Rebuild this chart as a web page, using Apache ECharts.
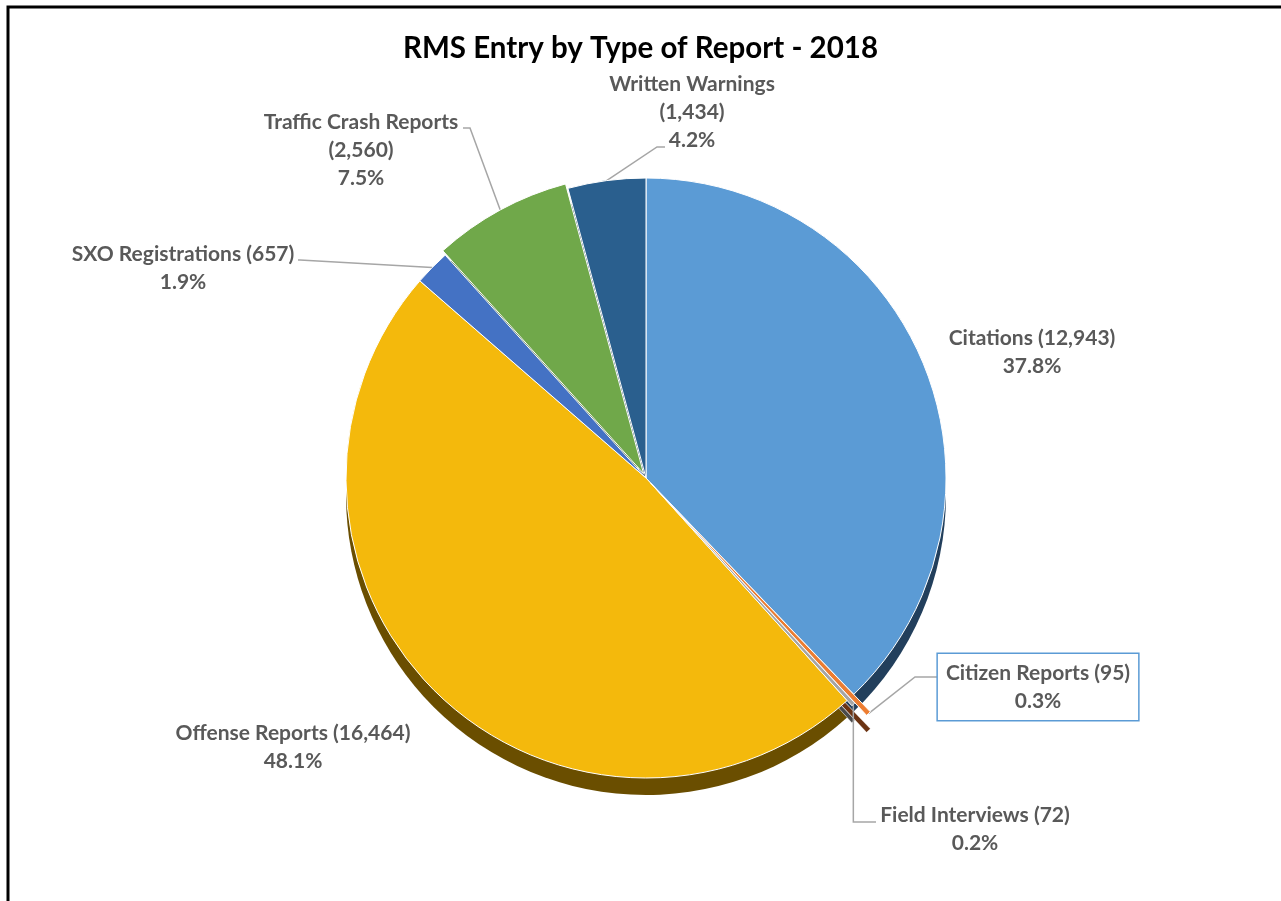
<!DOCTYPE html>
<html>
<head>
<meta charset="utf-8">
<title>RMS Entry by Type of Report - 2018</title>
<script src="https://cdn.jsdelivr.net/npm/echarts@6/dist/echarts.min.js"></script>
<style>
  html, body { margin: 0; padding: 0; background: #fff; }
  #chart { width: 1281px; height: 901px; }
</style>
</head>
<body>
<div id="chart"></div>
<script>
// Report types and their 2018 entry counts
const categories = [
  'Citations',
  'Citizen Reports',
  'Field Interviews',
  'Offense Reports',
  'SXO Registrations',
  'Traffic Crash Reports',
  'Written Warnings'
];
const counts = [12943, 95, 72, 16464, 657, 2560, 1434];

// Slice colours (top face) and the darker tones used for the pie's rim
const topColors  = ['#5B9BD5', '#ED7D31', '#A5A5A5', '#F4B90C', '#4472C4', '#70A84A', '#2A5F8E'];
const sideColors = ['#223F5C', '#6B3312', '#4A4A4A', '#6A4E00', '#2B4A80', '#446B2B', '#163A5A'];

// How far each slice is pulled out of the pie (px)
const pullOut = [0, 24, 7, 0, 0, 5, 0];

// Geometry of the pie
const CX = 646, CY = 478, R = 300, DEPTH = 17;

// Where each label sits, with the bend of its leader line
const labelSpots = [
  { x: 1032, y: 352 },
  { x: 1038, y: 687, elbow: [915, 677], end: [937, 677], boxed: true },
  { x: 975,  y: 829, elbow: [null, 822], end: [876, 822] },
  { x: 293,  y: 747 },
  { x: 183,  y: 268, elbow: [300, 260], end: [298, 260] },
  { x: 361,  y: 150, elbow: [470, 128], end: [463, 128] },
  { x: 692,  y: 112, elbow: [657, 147], end: [665, 147] }
];

const FONT = 'Lato';
const total = counts.reduce((a, b) => a + b, 0);
const TRANSPARENT = 'rgba(0,0,0,0)';

// Mid angle of slice i, clockwise from 12 o'clock (radians)
function midAngle(i) {
  let before = 0;
  for (let j = 0; j < i; j++) before += counts[j];
  return (before + counts[i] / 2) / total * Math.PI * 2;
}

// Point on the outer rim at the middle of slice i
function rimPoint(i) {
  const a = midAngle(i);
  const r = R + pullOut[i];
  return [CX + r * Math.sin(a), CY - r * Math.cos(a)];
}

// Centre of slice i once it is pulled out
function pulledCenter(i) {
  const a = midAngle(i);
  return [CX + pullOut[i] * Math.sin(a), CY - pullOut[i] * Math.cos(a)];
}

function fmt(n) { return n.toLocaleString('en-US'); }

const labelNames = {
  'Written Warnings': 'Written Warnings\n',
  'Traffic Crash Reports': 'Traffic Crash Reports\n'
};

// A pie layer showing only the slices accepted by `keep`
function layer(colors, keep, center, z, border) {
  return {
    type: 'pie',
    center: center,
    radius: R,
    startAngle: 90,
    silent: true,
    label: { show: false },
    labelLine: { show: false },
    emphasis: { disabled: true },
    z: z,
    data: categories.map((name, i) => ({
      name: name,
      value: counts[i],
      itemStyle: keep(i)
        ? { color: colors[i], borderColor: border, borderWidth: border ? 1 : 0 }
        : { color: TRANSPARENT, borderWidth: 0 }
    }))
  };
}

const series = [];

// rim for the slices that stay in place
series.push(layer(sideColors, i => pullOut[i] === 0, [CX, CY + DEPTH], 1, null));

// rim for pulled-out slices
categories.forEach((_, i) => {
  if (!pullOut[i]) return;
  const c = pulledCenter(i);
  series.push(layer(sideColors, j => j === i, [c[0], c[1] + DEPTH], 2, 'rgba(255,255,255,0.35)'));
});

// top faces of pulled-out slices
categories.forEach((_, i) => {
  if (!pullOut[i]) return;
  series.push(layer(topColors, j => j === i, pulledCenter(i), 4, '#fff'));
});

// main top face, carrying the labels
series.push({
  type: 'pie',
  center: [CX, CY],
  radius: R,
  startAngle: 90,
  avoidLabelOverlap: false,
  percentPrecision: 1,
  emphasis: { disabled: true },
  z: 3,
  label: {
    show: true,
    position: 'outside',
    fontFamily: FONT,
    fontSize: 21,
    fontWeight: 'bold',
    color: '#595959',
    lineHeight: 28,
    align: 'center',
    formatter: function (p) {
      const head = labelNames[p.name] ? labelNames[p.name] : p.name + ' ';
      return head + '(' + fmt(p.value) + ')\n' + p.percent.toFixed(1) + '%';
    }
  },
  labelLine: {
    show: true,
    lineStyle: { color: '#A6A6A6', width: 1.5 }
  },
  labelLayout: function (params) {
    const i = params.dataIndex;
    const spot = labelSpots[i];
    const out = { x: spot.x, y: spot.y, align: 'center', verticalAlign: 'middle' };
    if (spot.elbow) {
      const start = rimPoint(i);
      const elbow = [spot.elbow[0] == null ? start[0] : spot.elbow[0], spot.elbow[1]];
      out.labelLinePoints = [start, elbow, spot.end];
    }
    return out;
  },
  data: categories.map((name, i) => {
    const spot = labelSpots[i];
    const item = {
      name: name,
      value: counts[i],
      itemStyle: pullOut[i]
        ? { color: TRANSPARENT, borderWidth: 0 }
        : { color: topColors[i], borderColor: '#fff', borderWidth: 1 },
      labelLine: { show: !!spot.elbow }
    };
    if (spot.boxed) {
      item.label = {
        backgroundColor: '#fff',
        borderColor: '#5B9BD5',
        borderWidth: 1.5,
        padding: [6, 8, 4, 8]
      };
    }
    return item;
  })
});

const chart = echarts.init(document.getElementById('chart'), null, { renderer: 'canvas' });

chart.setOption({
  backgroundColor: '#fff',
  animation: false,
  title: {
    text: 'RMS Entry by Type of Report - 2018',
    left: 'center',
    top: 28,
    textStyle: {
      fontFamily: FONT,
      fontSize: 29.5,
      fontWeight: 'bold',
      color: '#000'
    }
  },
  graphic: [{
    type: 'rect',
    shape: { x: 8, y: 7, width: 1400, height: 1000 },
    style: { fill: 'none', stroke: '#000', lineWidth: 3 },
    silent: true
  }],
  series: series
});
</script>
</body>
</html>
